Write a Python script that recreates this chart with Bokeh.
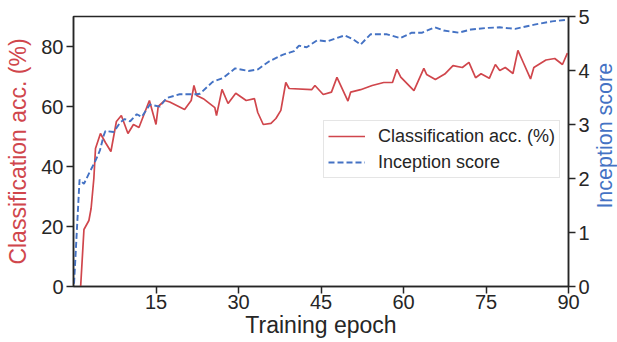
import math
from bokeh.plotting import figure
from bokeh.layouts import row
from bokeh.models import Range1d, LinearAxis, FixedTicker, Legend, LegendItem
from bokeh.core.properties import value
from bokeh.embed import file_html
from bokeh.resources import INLINE

# Classification accuracy (%) vs training epoch
acc_epoch = [1.3, 1.9, 2.8, 3.2, 3.7, 4.0, 4.9, 5.8, 6.8, 7.8, 8.7, 9.9, 10.9, 11.9,
             13.8, 15.0, 15.4, 16.6, 17.5, 20.2, 21.4, 21.9, 22.4, 23.6, 25.7, 26.0,
             27.0, 28.1, 29.5, 31.4, 32.9, 33.5, 34.5, 35.9, 36.8, 37.7, 38.6, 39.2,
             43.3, 43.9, 45.4, 46.9, 47.9, 49.9, 50.4, 52.2, 54.3, 56.4, 58.0, 58.8,
             59.5, 61.9, 63.7, 64.2, 65.8, 67.5, 69.0, 70.7, 71.9, 73.1, 74.1, 75.6,
             76.7, 77.5, 78.5, 79.9, 80.8, 81.7, 83.1, 83.7, 85.9, 87.5, 88.9, 89.8]
acc = [0, 19, 22, 26, 36, 46, 51, 48, 45, 55, 57, 51, 54, 53,
       62, 54, 60, 62, 61.5, 59, 62, 67, 63.7, 62.6, 59.6, 57,
       65.7, 61, 64.4, 62, 62.6, 58, 54, 54.4, 56, 58.7, 68, 66,
       65.6, 67, 64, 64.8, 69.7, 61.8, 64.8, 65.6, 67, 68, 68, 72.4,
       69.8, 65.3, 72.7, 70.7, 69, 70.8, 73.6, 73, 74.7, 69.6, 70.9, 69.4,
       74, 72, 73, 71, 78.7, 75, 69.2, 73, 75.5, 76, 74, 77.8]

# Inception score vs training epoch
is_epoch = [0.1, 1.1, 1.9, 2.8, 4.0, 4.8, 5.5, 5.8, 7.3, 8.5, 9.3, 10.3, 11.5, 12.4,
            13.9, 15.7, 16.9, 19.3, 22.4, 23.0, 25.3, 27.2, 29.4, 31.8, 33.5, 35.6,
            38.0, 40.1, 41.0, 42.4, 44.3, 46.1, 49.3, 50.8, 52.2, 54.0, 57.0, 59.4,
            61.5, 63.4, 65.7, 67.3, 70.0, 72.3, 75.4, 77.5, 80.3, 83.8, 87.0, 89.7]
incep = [0.05, 1.98, 1.9, 2.09, 2.33, 2.52, 2.8, 2.88, 2.86, 3.04, 3.1, 3.06, 3.19, 3.14,
         3.37, 3.33, 3.49, 3.56, 3.56, 3.57, 3.79, 3.86, 4.04, 3.99, 4.02, 4.17,
         4.29, 4.36, 4.46, 4.43, 4.56, 4.54, 4.65, 4.58, 4.48, 4.67, 4.67, 4.6,
         4.7, 4.7, 4.8, 4.74, 4.7, 4.76, 4.79, 4.8, 4.77, 4.85, 4.91, 4.94]

x_ticks = [15, 30, 45, 60, 75, 90]
acc_ticks = [0, 20, 40, 60, 80]
is_ticks = [0, 1, 2, 3, 4, 5]

RED = "#d0464c"
BLUE = "#4472c4"
DARK = "#262626"
FONT = "Liberation Sans"

p = figure(width=592, height=342, x_range=Range1d(0, 90), y_range=Range1d(0, 90),
           output_backend="svg", toolbar_location=None,
           min_border_left=73, min_border_right=21, min_border_top=16, min_border_bottom=56)
p.extra_y_ranges = {"is": Range1d(0, 5)}
p.xgrid.visible = False
p.ygrid.visible = False
p.outline_line_color = DARK
p.outline_line_width = 1.5
p.outline_line_alpha = 1.0
p.background_fill_color = "white"
p.border_fill_color = "white"

r1 = p.line(acc_epoch, acc, line_color=RED, line_width=1.7)
r2 = p.line(is_epoch, incep, line_color=BLUE, line_width=1.9, line_dash="6 3",
            y_range_name="is")

yr = LinearAxis(y_range_name="is")
p.add_layout(yr, "right")

xa = p.below[0]
ya = p.left[0]
xa.axis_label = "Training epoch"
ya.axis_label = "Classification acc. (%)"
xa.ticker = FixedTicker(ticks=x_ticks)
ya.ticker = FixedTicker(ticks=acc_ticks)
yr.ticker = FixedTicker(ticks=is_ticks)

for ax in [xa, ya, yr]:
    ax.major_label_text_font = FONT
    ax.major_label_text_font_size = "20px"
    ax.major_label_text_color = DARK
    ax.axis_label_text_font = FONT
    ax.axis_label_text_font_size = "23px"
    ax.axis_label_text_font_style = "normal"
    ax.axis_line_color = DARK
    ax.axis_line_width = 1.5
    ax.major_tick_line_color = DARK
    ax.major_tick_line_width = 1.5
    ax.major_tick_out = 7
    ax.major_tick_in = 0
    ax.minor_tick_out = 0
    ax.minor_tick_in = 0

xa.major_label_standoff = 1
xa.axis_label_standoff = 0
ya.major_label_standoff = 3
ya.axis_label_standoff = 7
yr.major_label_standoff = 3

xa.axis_label_text_color = DARK
ya.axis_label_text_color = RED

legend = Legend(items=[LegendItem(label="Classification acc. (%)", renderers=[r1]),
                       LegendItem(label="Inception score", renderers=[r2])],
                location=(250, 108))
legend.label_text_font = FONT
legend.label_text_font_size = "18px"
legend.label_text_color = DARK
legend.glyph_width = 37
legend.glyph_height = 22
legend.label_height = 22
legend.label_standoff = 13
legend.padding = 4
legend.spacing = 4
legend.margin = 0
legend.border_line_color = "#cccccc"
legend.border_line_width = 1
legend.background_fill_alpha = 0.85
p.add_layout(legend)

# narrow strip carrying the right-hand axis title (reads bottom to top)
strip = figure(width=25, height=342, x_range=Range1d(0, 25), y_range=Range1d(0, 342),
               x_axis_type=None, y_axis_type=None, output_backend="svg",
               toolbar_location=None, min_border=0)
strip.outline_line_color = None
strip.xgrid.visible = False
strip.ygrid.visible = False
strip.text(x=[12.5], y=[191], text=["Inception score"], angle=math.pi / 2,
           text_align="center", text_baseline="middle",
           text_font=value(FONT), text_font_size="21.5px", text_color=BLUE)

layout = row(p, strip, spacing=0)
open("out.html", "w").write(file_html(layout, INLINE))
